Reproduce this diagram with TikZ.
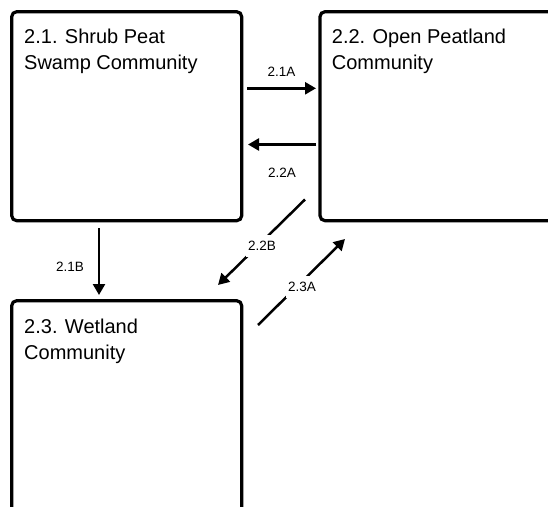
\documentclass[tikz,border=0pt]{standalone}
\usepackage{fontspec}
\setmainfont{Liberation Sans}
\usetikzlibrary{arrows.meta}
\begin{document}
\begin{tikzpicture}[x=1pt,y=-1pt,
  box/.style={draw=black, line width=3.2pt, rounded corners=5pt, fill=white, inner sep=0pt, outer sep=0pt},
  boxtext/.style={anchor=north west, inner sep=0pt, align=left, font=\fontsize{20}{26}\selectfont},
  arr/.style={line width=2.5pt, -{Triangle[length=11pt,width=12pt]}},
  lab/.style={font=\fontsize{13.5}{15}\selectfont, fill=white, inner sep=2.5pt}]
\useasboundingbox (0,0) rectangle (548,506);
\clip (0,0) rectangle (548,506);
% boxes
\node[box, minimum width=230pt, minimum height=209pt] (b1) at (126.7,116.2) {};
\node[box, minimum width=250pt, minimum height=209pt] (b2) at (445,116.2) {};
\node[box, minimum width=230pt, minimum height=229.3pt] (b3) at (126.7,415.35) {};
\node[boxtext] (t1) at (24,29) {2.1. Shrub Peat\\Swamp Community};
\node[boxtext] (t2) at (331.7,29) {2.2. Open Peatland\\Community};
\node[boxtext] (t3) at (24,319) {2.3. Wetland\\Community};
% connector end points
\coordinate (a1s) at (247,88.3);
\coordinate (a1e) at (316,88.3);
\coordinate (a2s) at (316,144.5);
\coordinate (a2e) at (248,144.5);
\coordinate (b1s) at (99,228);
\coordinate (b1e) at (99,295);
\coordinate (b2s) at (305,199.5);
\coordinate (b2e) at (218,285);
\coordinate (c1s) at (258,325);
\coordinate (c1e) at (345,239);
% connectors
\draw[arr] (a1s) -- (a1e);
\draw[arr] (a2s) -- (a2e);
\draw[arr] (b1s) -- (b1e);
\draw[arr] (b2s) -- (b2e);
\draw[arr] (c1s) -- (c1e);
% labels
\node[lab] (l1) at (281.5,72) {2.1A};
\node[lab] (l2) at (282,172.5) {2.2A};
\node[lab] (l3) at (70,267) {2.1B};
\node[lab, inner ysep=6pt] (l4) at (262,246) {2.2B};
\node[lab, inner ysep=6pt] (l5) at (302,287) {2.3A};
\end{tikzpicture}
\end{document}
